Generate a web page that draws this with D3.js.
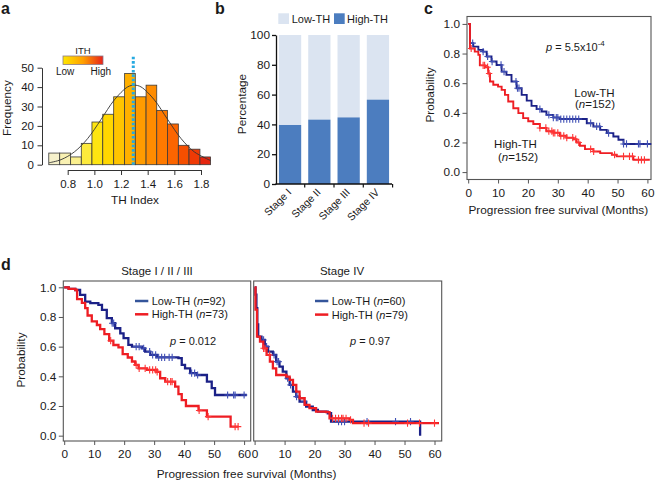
<!DOCTYPE html>
<html><head><meta charset="utf-8">
<script src="https://cdn.jsdelivr.net/npm/d3@7"></script>
<style>
body{margin:0;background:#fff}
svg{display:block}
text{font-family:"Liberation Sans",Arial,sans-serif;fill:#1a1a1a}
</style>
</head><body>
<svg id="fig" width="656" height="482"></svg>
<script>
// ---------------- DATA ----------------
// Panel a: histogram of TH index
const thBinEdges = [0.658,0.740,0.822,0.902,0.982,1.063,1.145,1.227,1.307,1.388,1.468,1.548,1.630,1.710,1.792,1.872];
const thCounts   = [6,6,4,11,22,26,35,47,35,41,28,21,10,8,4];
const thColors   = ["#f6f1cb","#f9f1b2","#fbf08e","#fdea3c","#fee511","#ffd700","#ffc400","#ffb000","#ff9c00","#ff8c00","#ff7a00","#fb6500","#f54f00","#ef3a05","#e5260f"];
const fitX = [0.66,0.75,0.85,0.95,1.05,1.15,1.25,1.30,1.35,1.45,1.55,1.65,1.75,1.87];
const fitY = [1.0,2.6,6.6,13.5,23.3,33.4,40.1,41.0,40.1,33.4,23.3,13.5,6.6,2.2];
const thMedian = 1.292;
const aXTicks = [0.8,1.0,1.2,1.4,1.6,1.8];
const aYTicks = [0,10,20,30,40,50];

// Panel b: stacked percentages
const stages  = ["Stage I","Stage II","Stage III","Stage IV"];
const highPct = [39.6,43.2,44.7,56.6];
const lowPct  = [60.4,56.8,55.3,43.4];
const bYTicks = [0,20,40,60,80,100];

// Panel c: KM all patients
const cLowT  = [0,0.6,1.7,3.4,5.0,6.2,7.8,9.5,11.2,12.8,14.5,16.2,17.9,19.6,21.2,22.9,24.6,26.2,28.5,30.7,39.7,41.9,44.2,46.4,48.6,50.3,52.0,61.3];
const cLowS  = [1,0.87,0.847,0.825,0.813,0.78,0.746,0.723,0.678,0.656,0.611,0.566,0.521,0.482,0.447,0.425,0.409,0.386,0.368,0.358,0.33,0.308,0.285,0.263,0.24,0.218,0.19,0.19];
const cLowCens  = [1.5,5,6.5,8,11,12,16,16.5,17,24,27,28.5,29.5,30,31,32,33,34,35,36,37,41,43,44,47,52,53,57,57.5,60];
const cHighT = [0,0.6,2.2,3.4,3.9,5.6,6.7,7.3,8.4,10.0,11.2,12.3,13.4,15.1,16.8,18.4,20.1,21.8,24.0,26.2,28.5,30.7,32.9,35.2,36.3,37.4,39.1,41.9,44.2,48.1,49.7,55.3,60.8];
const cHighS = [1,0.834,0.813,0.791,0.72,0.708,0.665,0.611,0.589,0.577,0.555,0.521,0.476,0.431,0.398,0.364,0.343,0.325,0.298,0.276,0.265,0.245,0.232,0.222,0.2,0.178,0.155,0.139,0.128,0.117,0.106,0.083,0.083];
const cHighCens = [1,5,5.5,6.5,7,24,26,27,28,28.5,29,30,31,32,33,35,36,37,41,42,49,52,54,55,57,58,59];

// Panel d left: Stage I/II/III
const dlLowT  = [0,1.5,3.7,5.3,7.0,8.7,11.4,12.6,14.2,15.9,17.0,18.7,19.8,21.4,22.6,25.9,27.0,28.7,30.9,38.1,39.2,40.3,42.0,44.2,47.6,49.2,50.3,60.9];
const dlLowS  = [1,0.99,0.982,0.949,0.904,0.893,0.881,0.848,0.792,0.758,0.724,0.69,0.657,0.612,0.6,0.589,0.566,0.544,0.528,0.522,0.477,0.454,0.421,0.409,0.364,0.32,0.274,0.274];
const dlLowCens  = [16,16.5,24,25,26.5,28.5,29.5,30.5,31.5,32.5,33.5,35,36,42.5,43.5,44.5,54.5,56.5,57,60];
const dlHighT = [0,1.5,3.7,4.3,5.9,7.0,7.8,9.2,10.9,12.0,13.4,15.0,16.4,18.1,19.5,21.2,22.6,23.7,24.8,27.6,30.9,32.0,33.7,37.0,38.1,39.2,40.6,44.8,47.6,55.5,58.1];
const dlHighS = [1,0.99,0.982,0.92,0.895,0.86,0.81,0.77,0.746,0.718,0.685,0.64,0.611,0.595,0.55,0.527,0.5,0.477,0.454,0.443,0.43,0.387,0.364,0.331,0.28,0.24,0.2,0.17,0.128,0.061,0.061];
const dlHighCens = [15.5,24,25,27,28.5,29.5,30.5,31,34.5,35.5,36,45,48,57,58];

// Panel d right: Stage IV
const drLowT  = [0,0.3,0.6,0.9,1.2,2.3,3.4,4.5,6.1,7.2,8.3,9.4,10.6,11.7,12.8,13.9,15.0,17.2,19.4,21.1,24.4,25.5,55.2];
const drLowS  = [1,0.95,0.86,0.75,0.668,0.645,0.6,0.566,0.544,0.499,0.465,0.432,0.387,0.342,0.297,0.263,0.229,0.196,0.173,0.162,0.151,0.094,0.0];
const drLowCens  = [3,4,6.5,7.5,8,11,12,14,16.5,28,29,30,37.5,47,52];
const drHighT = [0,0.3,0.8,1.8,2.9,4.0,5.1,6.1,7.2,10.6,11.7,12.8,13.9,15.0,16.7,18.3,20.5,23.9,25.0,31.7,32.8,61.5];
const drHighS = [1,0.85,0.668,0.634,0.589,0.544,0.499,0.454,0.409,0.398,0.376,0.342,0.297,0.252,0.207,0.185,0.162,0.158,0.117,0.106,0.084,0.084];
const drHighCens = [3,3.5,5,26,27,28,29,29.5,30.5,32,36.5,38,51,55,60];

const kmXTicks = [0,10,20,30,40,50,60];
const kmYTicks = [0,0.2,0.4,0.6,0.8,1.0];

// ---------------- DRAW ----------------
const svg = d3.select("#fig");
const LOW = "#1b2187", HIGH = "#ee1d23";
const LOWM = "#3f4fb5", HIGHM = "#ff3535";

function styleAxis(g, size){
  g.selectAll("text").attr("font-size", size||11.5).attr("fill","#1a1a1a").attr("font-family",'"Liberation Sans",Arial,sans-serif');
  g.selectAll("line").attr("stroke","#333");
  g.selectAll("path.domain").attr("stroke","#333");
}
function label(g, x, y, txt, size, anchor, rot, weight){
  const t = g.append("text").attr("x",x).attr("y",y).attr("font-size",size).attr("text-anchor",anchor||"start").text(txt);
  if(rot) t.attr("transform",`rotate(${rot},${x},${y})`);
  if(weight) t.attr("font-weight",weight);
  return t;
}
function rich(g, x, y, parts, size, anchor){
  const t = g.append("text").attr("x",x).attr("y",y).attr("font-size",size).attr("text-anchor",anchor||"start");
  parts.forEach(p=>{
    const s = t.append("tspan").text(p.t);
    if(p.i) s.attr("font-style","italic");
    if(p.fs) s.attr("font-size",p.fs);
    if(p.dy) s.attr("dy",p.dy);
  });
  return t;
}

// panel letters
label(svg, 1, 13.5, "a", 16, "start", 0, "bold");
label(svg, 215, 13.5, "b", 16, "start", 0, "bold");
label(svg, 424, 13.5, "c", 16, "start", 0, "bold");
label(svg, 1, 270, "d", 16, "start", 0, "bold");

// ---------- panel a ----------
{
  const g = svg.append("g");
  const x = d3.scaleLinear().domain([0.8,1.8]).range([67.7,201]);
  const y = d3.scaleLinear().domain([0,50]).range([164.7,67.7]);
  g.selectAll("rect.bar").data(thCounts).join("rect").attr("class","bar")
    .attr("x",(d,i)=>x(thBinEdges[i])).attr("width",(d,i)=>x(thBinEdges[i+1])-x(thBinEdges[i]))
    .attr("y",d=>y(d)).attr("height",d=>y(0)-y(d))
    .attr("fill",(d,i)=>thColors[i]).attr("stroke","#3a3a3a").attr("stroke-width",0.8);
  const line = d3.line().curve(d3.curveCatmullRom).x((d,i)=>x(fitX[i])).y(d=>y(d));
  g.append("path").attr("d",line(fitY)).attr("fill","none").attr("stroke","#333").attr("stroke-width",0.9);
  g.append("line").attr("x1",x(thMedian)).attr("x2",x(thMedian)).attr("y1",56.7).attr("y2",y(0))
    .attr("stroke","#27aae1").attr("stroke-width",3).attr("stroke-dasharray","2.6,1.8");
  const ya = g.append("g").attr("transform","translate(42,0)")
    .call(d3.axisLeft(y).tickValues(aYTicks).tickSize(4.5).tickPadding(3.5).tickSizeOuter(0));
  styleAxis(ya);
  const xa = g.append("g").attr("transform","translate(0,170)")
    .call(d3.axisBottom(x).tickValues(aXTicks).tickFormat(d3.format(".1f")).tickSize(5).tickPadding(5).tickSizeOuter(0));
  styleAxis(xa);
  label(g, 10.5, 108, "Frequency", 11.8, "middle", -90);
  label(g, 135, 203.5, "TH Index", 11.8, "middle");
  // legend color bar
  const grad = svg.append("defs").append("linearGradient").attr("id","ith");
  grad.append("stop").attr("offset","0%").attr("stop-color","#ffe600");
  grad.append("stop").attr("offset","50%").attr("stop-color","#ffa000");
  grad.append("stop").attr("offset","100%").attr("stop-color","#e8221b");
  g.append("rect").attr("x",63).attr("y",56).attr("width",40).attr("height",8.5)
    .attr("fill","url(#ith)").attr("stroke","#8a7a8a").attr("stroke-width",0.8);
  label(g, 83, 54, "ITH", 9.5, "middle");
  label(g, 56, 74.5, "Low", 10, "start");
  label(g, 90.5, 74.5, "High", 10, "start");
}

// ---------- panel b ----------
{
  const g = svg.append("g");
  const x = d3.scaleBand().domain(stages).range([276,392]).paddingInner(0.24).paddingOuter(0.1);
  const y = d3.scaleLinear().domain([0,100]).range([184,35]);
  g.selectAll("rect.low").data(stages).join("rect").attr("class","low")
    .attr("x",d=>x(d)).attr("width",x.bandwidth())
    .attr("y",(d,i)=>y(highPct[i]+lowPct[i])).attr("height",(d,i)=>y(highPct[i])-y(highPct[i]+lowPct[i]))
    .attr("fill","#dbe4f1");
  g.selectAll("rect.high").data(stages).join("rect").attr("class","high")
    .attr("x",d=>x(d)).attr("width",x.bandwidth())
    .attr("y",(d,i)=>y(highPct[i])).attr("height",(d,i)=>y(0)-y(highPct[i]))
    .attr("fill","#4c7dbf");
  const ya = g.append("g").attr("transform","translate(276,0)")
    .call(d3.axisLeft(y).tickValues(bYTicks).tickSize(4).tickPadding(2).tickSizeOuter(0));
  styleAxis(ya, 11.8);
  ya.selectAll("line,path.domain").attr("stroke","#111").attr("stroke-width",1.3);
  g.append("line").attr("x1",275.4).attr("x2",392).attr("y1",184).attr("y2",184).attr("stroke","#111").attr("stroke-width",1.3);
  const gap = x.step()*x.paddingInner();
  g.selectAll("line.bt").data(stages).join("line").attr("class","bt")
    .attr("x1",d=>x(d)+x.bandwidth()+gap/2).attr("x2",d=>x(d)+x.bandwidth()+gap/2)
    .attr("y1",184).attr("y2",187.5).attr("stroke","#111").attr("stroke-width",1.2);
  g.selectAll("text.st").data(stages).join("text").attr("class","st")
    .attr("font-size",10.5).attr("text-anchor","end")
    .attr("transform",d=>`translate(${x(d)+x.bandwidth()/2+2},193) rotate(-45)`).text(d=>d);
  label(g, 246, 104, "Percentage", 11.8, "middle", -90);
  g.append("rect").attr("x",278.3).attr("y",13.3).attr("width",10.7).attr("height",10.7).attr("fill","#dbe4f1");
  label(g, 291.7, 23.3, "Low-TH", 11, "start");
  g.append("rect").attr("x",334).attr("y",13.3).attr("width",10.7).attr("height",10.7).attr("fill","#4c7dbf");
  label(g, 347, 23.3, "High-TH", 11, "start");
}

// ---------- KM helper ----------
function survAt(T,S,t){ const i = d3.bisectRight(T,t)-1; return S[Math.max(0,Math.min(i,S.length-1))]; }
function drawKM(g, x, y, T, S, cens, color, mcolor, lw){
  const line = d3.line().curve(d3.curveStepAfter).x(d=>x(d)).y((d,i)=>y(S[i]));
  g.append("path").attr("d",line(T)).attr("fill","none").attr("stroke",color).attr("stroke-width",lw).attr("stroke-linejoin","miter");
  g.append("path").attr("d", cens.map(t=>{const px=x(t), py=y(survAt(T,S,t)); return `M${px-3.2},${py}h6.4M${px},${py-3.6}v7.2`;}).join(""))
    .attr("stroke",mcolor).attr("stroke-width",1.1).attr("fill","none");
}
function kmFrame(g, x, y, x0, x1, y0, y1, withY){
  g.append("rect").attr("x",x0).attr("y",y0).attr("width",x1-x0).attr("height",y1-y0).attr("fill","none").attr("stroke","#555").attr("stroke-width",1.1);
  const xa = g.append("g").attr("transform",`translate(0,${y1})`)
    .call(d3.axisBottom(x).tickValues(kmXTicks).tickSize(4).tickPadding(5).tickSizeOuter(0));
  xa.select("path.domain").remove();
  styleAxis(xa, 11.8);
  xa.selectAll("line").attr("stroke","#555");
  if(withY){
    const ya = g.append("g").attr("transform",`translate(${x0},0)`)
      .call(d3.axisLeft(y).tickValues(kmYTicks).tickFormat(d3.format(".1f")).tickSize(4.5).tickPadding(2.5).tickSizeOuter(0));
    ya.select("path.domain").remove();
    styleAxis(ya, 11.8);
    ya.selectAll("line").attr("stroke","#555");
  }
}

// ---------- panel c ----------
{
  const g = svg.append("g");
  const x = d3.scaleLinear().domain([-0.4,61.2]).range([467,651]);
  const y = d3.scaleLinear().domain([-0.05,1.05]).range([179.5,16.5]);
  kmFrame(g, x, y, 467, 651, 16.5, 179.5, true);
  drawKM(g, x, y, cLowT, cLowS, cLowCens, LOW, LOWM, 1.9);
  drawKM(g, x, y, cHighT, cHighS, cHighCens, HIGH, HIGHM, 1.9);
  label(g, 433.5, 95, "Probability", 11.8, "middle", -90);
  label(g, 558.3, 214, "Progression free survival (Months)", 11.8, "middle");
  rich(g, 546, 50.5, [{t:"p",i:true},{t:" = 5.5x10"},{t:"-4",fs:8,dy:-4.5}], 11);
  label(g, 594.5, 96.7, "Low-TH", 11.5, "middle");
  rich(g, 595, 107.5, [{t:"("},{t:"n",i:true},{t:"=152)"}], 11.5, "middle");
  label(g, 515.5, 148.3, "High-TH", 11.5, "middle");
  rich(g, 518, 161, [{t:"("},{t:"n",i:true},{t:"=152)"}], 11.5, "middle");
}

// ---------- panel d ----------
{
  const g = svg.append("g");
  const y = d3.scaleLinear().domain([-0.036,1.0425]).range([441,281]);
  const xl = d3.scaleLinear().domain([-0.3,62.2]).range([63.3,250.7]);
  const xr = d3.scaleLinear().domain([-0.3,62.4]).range([253.7,441.7]);
  kmFrame(g, xl, y, 63.3, 250.7, 281, 441, true);
  kmFrame(g, xr, y, 253.7, 441.7, 281, 441, false);
  drawKM(g, xl, y, dlLowT, dlLowS, dlLowCens, LOW, LOWM, 2.3);
  drawKM(g, xl, y, dlHighT, dlHighS, dlHighCens, HIGH, HIGHM, 2.3);
  drawKM(g, xr, y, drLowT, drLowS, drLowCens, LOW, LOWM, 2.3);
  drawKM(g, xr, y, drHighT, drHighS, drHighCens, HIGH, HIGHM, 2.3);
  label(g, 157, 274.5, "Stage I / II / III", 11.5, "middle");
  label(g, 342, 274.5, "Stage IV", 11.5, "middle");
  label(g, 25, 360, "Probability", 11.8, "middle", -90);
  label(g, 246.5, 478, "Progression free survival (Months)", 11.8, "middle");
  // legends
  const leg = (x0, yb, yr, nl, nh) => {
    g.append("line").attr("x1",x0).attr("x2",x0+13.3).attr("y1",yb).attr("y2",yb).attr("stroke","#34559a").attr("stroke-width",2.5);
    g.append("line").attr("x1",x0).attr("x2",x0+13.3).attr("y1",yr).attr("y2",yr).attr("stroke",HIGH).attr("stroke-width",2.5);
    rich(g, x0+16.7, yb+4, [{t:"Low-TH ("},{t:"n",i:true},{t:"="+nl+")"}], 11);
    rich(g, x0+16.7, yr+4, [{t:"High-TH ("},{t:"n",i:true},{t:"="+nh+")"}], 11);
  };
  leg(135, 301, 314.3, 92, 73);
  leg(315, 301, 314.6, 60, 79);
  rich(g, 170, 344.5, [{t:"p",i:true},{t:" = 0.012"}], 11);
  rich(g, 350, 345, [{t:"p",i:true},{t:" = 0.97"}], 11);
}
</script>
</body></html>
